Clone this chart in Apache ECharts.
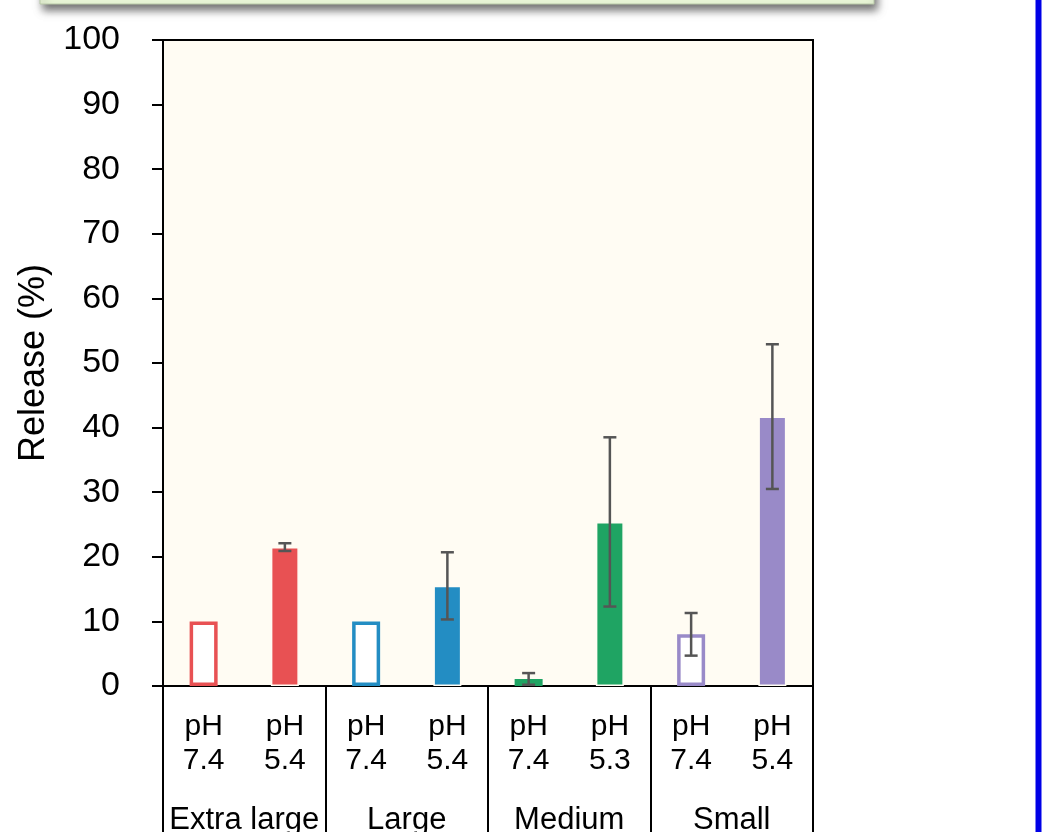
<!DOCTYPE html>
<html>
<head>
<meta charset="utf-8">
<script src="https://cdn.jsdelivr.net/npm/echarts@6/dist/echarts.min.js"></script>
<style>
  html, body { margin: 0; padding: 0; background: #fff; }
  #chart { width: 1048px; height: 832px; }
</style>
</head>
<body>
<div id="chart"></div>
<script>
// data
const phLabels = ['pH\n7.4', 'pH\n5.4', 'pH\n7.4', 'pH\n5.4', 'pH\n7.4', 'pH\n5.3', 'pH\n7.4', 'pH\n5.4'];
const sizeGroups = ['Extra large', 'Large', 'Medium', 'Small'];
const releaseMean = [10, 21.5, 10, 15.5, 1.1, 25.4, 8.0, 41.7];
const releaseErr = [0, 0.6, 0, 5.2, 0.9, 13.1, 3.3, 11.2];
const barColors = ['#e85153', '#e85153', '#238dc3', '#238dc3', '#1fa463', '#1fa463', '#998ac8', '#998ac8'];
const hollow = [true, false, true, false, true, false, true, false];
const yTicks = [0, 10, 20, 30, 40, 50, 60, 70, 80, 90, 100];

const FONT = "'Liberation Sans', Arial, sans-serif";
const PLOT_BG = '#fffcf3';

const chart = echarts.init(document.getElementById('chart'));

// hollow bars are a bit wider than the filled ones, so the filled
// ones get a thin border in the plot colour
const barData = releaseMean.map((v, i) => ({
  value: v,
  itemStyle: hollow[i]
    ? { color: '#ffffff', borderColor: barColors[i], borderWidth: 3.5 }
    : { color: barColors[i], borderColor: PLOT_BG, borderWidth: 1.5 }
}));

const errData = releaseMean.map((v, i) => [i, v - releaseErr[i], v + releaseErr[i]])
  .filter((d, i) => releaseErr[i] > 0);

const option = {
  animation: false,
  backgroundColor: '#ffffff',
  textStyle: { fontFamily: FONT },
  graphic: [
    {
      type: 'rect',
      shape: { x: 40, y: -40, width: 834, height: 44 },
      style: {
        fill: '#e8f5d6', stroke: '#b9c9a8', lineWidth: 1,
        shadowBlur: 8, shadowOffsetY: 6, shadowOffsetX: 3, shadowColor: 'rgba(0,0,0,0.55)'
      }
    },
    {
      type: 'rect',
      shape: { x: 1035, y: 0, width: 7, height: 832 },
      style: { fill: '#7f7ff5' }
    },
    {
      type: 'rect',
      shape: { x: 1036, y: 0, width: 5, height: 832 },
      style: { fill: '#0000e6' }
    }
  ],
  grid: {
    left: 163, top: 40, width: 650, height: 646,
    outerBoundsMode: 'none',
    containLabel: false,
    show: true, backgroundColor: PLOT_BG, borderColor: '#000', borderWidth: 2
  },
  xAxis: [
    {
      type: 'category',
      data: phLabels,
      axisLine: { show: true, lineStyle: { color: '#000', width: 2 } },
      axisTick: { show: false },
      axisLabel: {
        color: '#000', fontSize: 30, lineHeight: 34, margin: 24,
        fontFamily: FONT, interval: 0
      }
    },
    {
      type: 'category',
      data: sizeGroups,
      position: 'bottom',
      axisLine: { show: false },
      axisTick: { show: true, length: 150, lineStyle: { color: '#000', width: 2 } },
      axisLabel: {
        color: '#000', fontSize: 31, margin: 119, fontFamily: FONT, interval: 0
      }
    }
  ],
  yAxis: {
    type: 'value',
    min: yTicks[0], max: yTicks[yTicks.length - 1], interval: 10,
    name: 'Release (%)',
    nameLocation: 'middle',
    nameGap: 110,
    nameTextStyle: { color: '#000', fontSize: 36, fontFamily: FONT },
    axisLine: { show: true, lineStyle: { color: '#000', width: 2 } },
    axisTick: { show: true, inside: false, length: 11, lineStyle: { color: '#000', width: 2 } },
    axisLabel: { color: '#000', fontSize: 34, margin: 43, fontFamily: FONT },
    splitLine: { show: false }
  },
  series: [
    {
      type: 'bar',
      xAxisIndex: 0,
      barWidth: 28,
      data: barData,
      z: 2
    },
    {
      type: 'custom',
      xAxisIndex: 0,
      data: errData,
      z: 3,
      renderItem: function (params, api) {
        const x = api.value(0);
        const lo = api.coord([x, api.value(1)]);
        const hi = api.coord([x, api.value(2)]);
        const cap = 6.5;
        const st = { stroke: '#555555', lineWidth: 2.5 };
        return {
          type: 'group',
          children: [
            { type: 'line', shape: { x1: lo[0], y1: lo[1], x2: hi[0], y2: hi[1] }, style: st },
            { type: 'line', shape: { x1: lo[0] - cap, y1: lo[1], x2: lo[0] + cap, y2: lo[1] }, style: st },
            { type: 'line', shape: { x1: hi[0] - cap, y1: hi[1], x2: hi[0] + cap, y2: hi[1] }, style: st }
          ]
        };
      }
    }
  ]
};

chart.setOption(option);
</script>
</body>
</html>
